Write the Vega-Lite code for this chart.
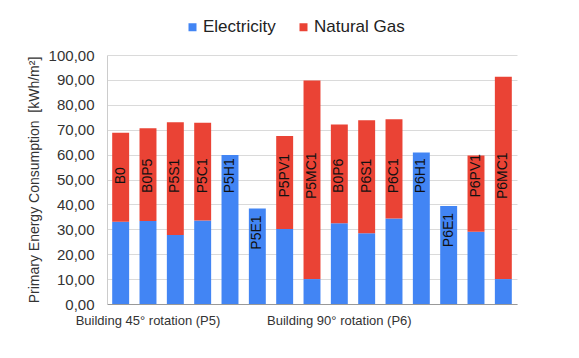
{
  "$schema": "https://vega.github.io/schema/vega-lite/v6.json",
  "autosize": {"type": "fit", "contains": "padding"},
  "width": 579,
  "height": 358,
  "padding": {"left": 27, "top": 48, "right": 62, "bottom": 31},
  "background": "white",
  "config": {
    "view": {"stroke": null},
    "font": "Liberation Sans",
    "axisY": {
      "titleFontSize": 14,
      "titleFontWeight": "normal",
      "titleColor": "#333333",
      "titlePadding": 7,
      "labelOverlap": false,
      "labelFontSize": 15,
      "labelColor": "#333333",
      "labelPadding": 13,
      "ticks": false,
      "domainColor": "#cccccc",
      "gridColor": "#dadada"
    }
  },
  "data": {
    "values": [
      {"scenario": "B0", "source": "Electricity", "value": 33.0},
      {"scenario": "B0", "source": "Natural Gas", "value": 35.8},
      {"scenario": "B0P5", "source": "Electricity", "value": 33.3},
      {"scenario": "B0P5", "source": "Natural Gas", "value": 37.3},
      {"scenario": "P5S1", "source": "Electricity", "value": 27.7},
      {"scenario": "P5S1", "source": "Natural Gas", "value": 45.3},
      {"scenario": "P5C1", "source": "Electricity", "value": 33.5},
      {"scenario": "P5C1", "source": "Natural Gas", "value": 39.3},
      {"scenario": "P5H1", "source": "Electricity", "value": 59.8},
      {"scenario": "P5H1", "source": "Natural Gas", "value": 0},
      {"scenario": "P5E1", "source": "Electricity", "value": 38.4},
      {"scenario": "P5E1", "source": "Natural Gas", "value": 0},
      {"scenario": "P5PV1", "source": "Electricity", "value": 30.1},
      {"scenario": "P5PV1", "source": "Natural Gas", "value": 37.4},
      {"scenario": "P5MC1", "source": "Electricity", "value": 10.0},
      {"scenario": "P5MC1", "source": "Natural Gas", "value": 79.8},
      {"scenario": "B0P6", "source": "Electricity", "value": 32.4},
      {"scenario": "B0P6", "source": "Natural Gas", "value": 39.7},
      {"scenario": "P6S1", "source": "Electricity", "value": 28.4},
      {"scenario": "P6S1", "source": "Natural Gas", "value": 45.4},
      {"scenario": "P6C1", "source": "Electricity", "value": 34.3},
      {"scenario": "P6C1", "source": "Natural Gas", "value": 39.9},
      {"scenario": "P6H1", "source": "Electricity", "value": 60.8},
      {"scenario": "P6H1", "source": "Natural Gas", "value": 0},
      {"scenario": "P6E1", "source": "Electricity", "value": 39.4},
      {"scenario": "P6E1", "source": "Natural Gas", "value": 0},
      {"scenario": "P6PV1", "source": "Electricity", "value": 29.0},
      {"scenario": "P6PV1", "source": "Natural Gas", "value": 30.6},
      {"scenario": "P6MC1", "source": "Electricity", "value": 10.0},
      {"scenario": "P6MC1", "source": "Natural Gas", "value": 81.3}
    ]
  },
  "encoding": {
    "x": {
      "field": "scenario",
      "type": "nominal",
      "sort": null,
      "scale": {"paddingInner": 0.38, "paddingOuter": 0.19},
      "axis": {
        "title": null,
        "labelAngle": 0,
        "ticks": false,
        "domainColor": "#999999",
        "labelColor": "#333333",
        "labelFontSize": 13,
        "labelPadding": 10,
        "labelOverlap": false,
        "labelBound": false,
        "labelExpr": "datum.value == 'B0P5' ? 'Building 45° rotation (P5)' : (datum.value == 'B0P6' ? 'Building 90° rotation (P6)' : '')"
      }
    }
  },
  "layer": [
    {
      "mark": {"type": "bar"},
      "encoding": {
        "y": {
          "field": "value",
          "type": "quantitative",
          "stack": "zero",
          "scale": {"domain": [0, 100], "nice": false},
          "axis": {
            "title": "Primary Energy Consumption \u00a0[kWh/m²]",
            "values": [0, 10, 20, 30, 40, 50, 60, 70, 80, 90, 100],
            "labelExpr": "replace(format(datum.value, '.2f'), '.', ',')"
          }
        },
        "color": {
          "field": "source",
          "type": "nominal",
          "scale": {"domain": ["Electricity", "Natural Gas"], "range": ["#4285F4", "#EA4335"]},
          "legend": {
            "title": null,
            "orient": "none",
            "direction": "horizontal",
            "legendX": 77,
            "legendY": -36.5,
            "symbolType": "square",
            "symbolSize": 64,
            "symbolStrokeWidth": 0,
            "labelFontSize": 17,
            "labelColor": "#222222",
            "labelOffset": 2,
            "columnPadding": 19,
            "padding": 0
          }
        },
        "order": {"field": "source", "sort": "ascending"}
      }
    },
    {
      "transform": [
        {"filter": "datum.source == 'Electricity' && datum.scenario != 'P5E1' && datum.scenario != 'P6E1'"}
      ],
      "mark": {"type": "text", "angle": 270, "align": "center", "baseline": "middle", "fontSize": 14, "color": "#111111"},
      "encoding": {
        "y": {
          "datum": 51.5,
          "axis": {
            "title": "Primary Energy Consumption \u00a0[kWh/m²]",
            "values": [0, 10, 20, 30, 40, 50, 60, 70, 80, 90, 100],
            "labelExpr": "replace(format(datum.value, '.2f'), '.', ',')"
          }
        },
        "text": {"field": "scenario"}
      }
    },
    {
      "transform": [
        {"filter": "datum.source == 'Electricity' && (datum.scenario == 'P5E1' || datum.scenario == 'P6E1')"}
      ],
      "mark": {"type": "text", "angle": 270, "align": "right", "baseline": "middle", "dx": -7, "fontSize": 14, "color": "#111111"},
      "encoding": {
        "y": {
          "field": "value",
          "type": "quantitative",
          "axis": {
            "title": "Primary Energy Consumption \u00a0[kWh/m²]",
            "values": [0, 10, 20, 30, 40, 50, 60, 70, 80, 90, 100],
            "labelExpr": "replace(format(datum.value, '.2f'), '.', ',')"
          }
        },
        "text": {"field": "scenario"}
      }
    }
  ]
}
